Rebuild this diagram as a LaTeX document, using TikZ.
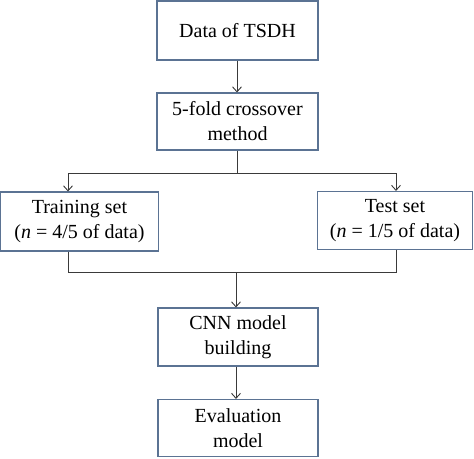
\documentclass[tikz,border=0pt]{standalone}
\usepackage{fontspec}
\setmainfont{Liberation Serif}
\usetikzlibrary{arrows.meta}
\definecolor{boxline}{HTML}{5B7393}
\definecolor{arrowline}{HTML}{3A3A3A}
\tikzset{
  stepbox/.style={draw=boxline, line width=1.1pt, fill=white, align=center, inner sep=0pt,
    font=\fontsize{20}{25}\selectfont, text=black},
  conn/.style={draw=arrowline, line width=0.9pt},
  arr/.style={conn, -{Straight Barb[length=5pt,width=9pt,line width=0.9pt]}},
}
\begin{document}
\begin{tikzpicture}[x=1pt,y=-1pt]
\useasboundingbox (0,0) rectangle (474,458);
\node[stepbox, minimum width=161pt, minimum height=59pt] (data) at (237.5,30.5) {Data of TSDH};
\node[stepbox, minimum width=161pt, minimum height=57pt] (fold) at (237.5,121.5) {5-fold crossover\\method};
\node[stepbox, minimum width=158pt, minimum height=59pt] (train) at (79.5,221.5) {Training set\\(\textit{n} = 4/5 of data)};
\node[stepbox, minimum width=155pt, minimum height=58pt] (test) at (395,220.5) {Test set\\(\textit{n} = 1/5 of data)};
\node[stepbox, minimum width=160pt, minimum height=58pt] (cnn) at (238,337) {CNN model\\building};
\node[stepbox, minimum width=160pt, minimum height=57pt] (eval) at (238,428) {Evaluation\\model};
\coordinate (splitL) at (68,173);
\coordinate (splitR) at (396,173);
\coordinate (splitM) at (237,173);
\coordinate (mergeL) at (68,272);
\coordinate (mergeR) at (396,272);
\coordinate (mergeM) at (236,272);
\draw[arr] (data.south -| 237,0) -- (fold.north -| 237,0);
\draw[conn] (fold.south -| splitM) -- (splitM);
\draw[conn] (splitL) -- (splitR);
\draw[arr] (splitL) -- (splitL |- train.north);
\draw[arr] (splitR) -- (splitR |- test.north);
\draw[conn] (mergeL |- train.south) -- (mergeL) -- (mergeR) -- (mergeR |- test.south);
\draw[arr] (mergeM) -- (mergeM |- cnn.north);
\draw[arr] (cnn.south -| 236,0) -- (eval.north -| 236,0);
\end{tikzpicture}
\end{document}
